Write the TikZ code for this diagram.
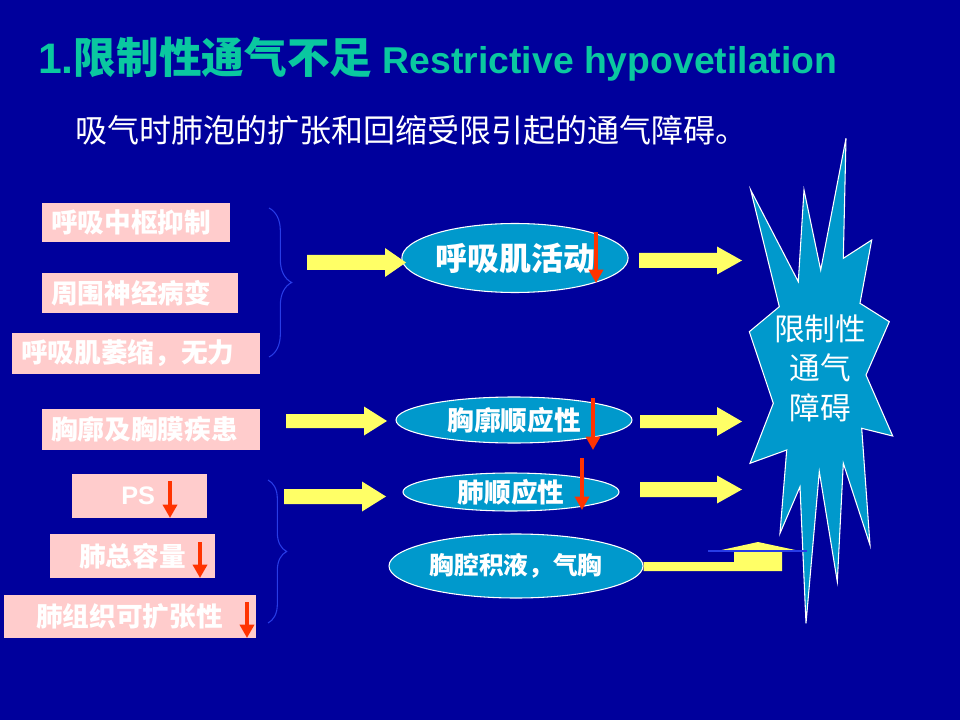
\documentclass[tikz,border=0pt]{standalone}
\usepackage{fontspec}
\setmainfont{Liberation Sans}
\newfontfamily\cjk{Noto Sans CJK SC}
\usetikzlibrary{shapes.geometric,arrows.meta,decorations.pathreplacing}
\definecolor{bgc}{RGB}{0,0,156}
\definecolor{titlec}{RGB}{10,200,160}
\definecolor{pinkc}{RGB}{255,204,204}
\definecolor{ellc}{RGB}{0,153,204}
\definecolor{yelc}{RGB}{255,255,102}
\definecolor{redc}{RGB}{255,51,0}
\definecolor{bracec}{RGB}{40,60,230}
\newcommand{\px}[1]{#1*0.75pt}
% block arrow: x-start, x-tip, y-centre, shaft half, head half, head length
\newcommand{\yarrow}[6]{\fill[yelc] (#1,#3-#4) -- (#2-#6,#3-#4) -- (#2-#6,#3-#5) -- (#2,#3) -- (#2-#6,#3+#5) -- (#2-#6,#3+#4) -- (#1,#3+#4) -- cycle;}
\begin{document}
\begin{tikzpicture}[x=0.75pt,y=-0.75pt,
  pbox/.style={fill=pinkc, inner sep=0pt},
  btext/.style={text=white, inner sep=0pt, anchor=west, font=\cjk\bfseries\fontsize{20}{22}\selectfont},
  ell/.style={ellipse, fill=ellc, draw=white, line width=0.8pt, inner sep=0pt, text=white, font=\cjk\bfseries\fontsize{20}{22}\selectfont},
  redarr/.style={draw=redc, line width=2.8pt, -{Triangle[width=10.5pt,length=10pt]}},
  bracestyle/.style={draw=bracec, line width=0.8pt, decorate},
  burst/.style={fill=ellc, draw=white, line width=0.8pt, line join=miter}]
\fill[bgc] (0,0) rectangle (960,720);
\useasboundingbox (0,0) rectangle (960,720);

% title and subtitle
\node[anchor=base west, inner sep=0pt, text=titlec, font=\bfseries\fontsize{28}{32}\selectfont] (title) at (38,74)
  {{\fontsize{32}{34}\selectfont 1.}{\cjk\fontsize{32}{34}\selectfont 限制性通气不足} Restrictive hypovetilation};
\node[anchor=west, inner sep=0pt, text=white, font=\cjk\fontsize{24}{26}\selectfont] (sub) at (75,130)
  {吸气时肺泡的扩张和回缩受限引起的通气障碍。};

% left boxes
\node[pbox, minimum width=\px{188}, minimum height=\px{39}] (b1) at (136,222.5) {};
\node[btext] (t1) at (51,222) {呼吸中枢抑制};
\node[pbox, minimum width=\px{196}, minimum height=\px{40}] (b2) at (140,293) {};
\node[btext] (t2) at (51,293) {周围神经病变};
\node[pbox, minimum width=\px{248}, minimum height=\px{41}] (b3) at (136,353.5) {};
\node[btext] (t3) at (21,353.5) {呼吸肌萎缩，无力};
\node[pbox, minimum width=\px{218}, minimum height=\px{41}] (b4) at (151,429.5) {};
\node[btext] (t4) at (51,429.5) {胸廓及胸膜疾患};
\node[pbox, minimum width=\px{135}, minimum height=\px{44}] (b5) at (139.5,496) {};
\node[btext, font=\bfseries\fontsize{19}{22}\selectfont] (t5) at (121,496) {PS};
\node[pbox, minimum width=\px{165}, minimum height=\px{44}] (b6) at (132.5,556) {};
\node[btext] (t6) at (79,556) {肺总容量};
\node[pbox, minimum width=\px{252}, minimum height=\px{43}] (b7) at (130,616.5) {};
\node[btext] (t7) at (36,616.5) {肺组织可扩张性};

% braces
\draw[bracestyle, decoration={brace, amplitude=17pt}] (269,208) -- (269,357);
\draw[bracestyle, decoration={brace, amplitude=14pt}] (268,480) -- (268,623);

% starburst
\filldraw[burst] (750.7,190) -- (779.3,306.7) -- (749.3,331.7) -- (773.3,403.3) -- (750,463.3)
  -- (786.7,450) -- (780,533.3) -- (800,486.7) -- (806,623.3) -- (819.3,471.7) -- (837.3,581.7)
  -- (843.3,463.3) -- (870,545) -- (861.7,428.3) -- (892.7,436) -- (866,375) -- (889.3,321.7)
  -- (860,303.3) -- (871.7,240) -- (843.3,258.3) -- (846,138.3) -- (820.7,270) -- (804,190)
  -- (798.3,281.7) -- cycle;
\node[text=white, inner sep=0pt, align=center, font=\cjk\fontsize{23}{29.6}\selectfont] (sb) at (820,368) {限制性\\通气\\障碍};

% ellipses
\node[ell, minimum width=\px{219}, minimum height=\px{69}, font=\cjk\bfseries\fontsize{24}{26}\selectfont] (e1) at (515,258) {呼吸肌活动};
\node[ell, minimum width=\px{236}, minimum height=\px{46}] (e2) at (514,420) {胸廓顺应性};
\node[ell, minimum width=\px{216}, minimum height=\px{38}] (e3) at (511,492) {肺顺应性};
\node[ell, minimum width=\px{254}, minimum height=\px{64}, font=\cjk\bfseries\fontsize{18.5}{20}\selectfont] (e4) at (516,566) {胸腔积液，气胸};

% yellow block arrows
\yarrow{307}{406}{262.5}{7.5}{14.5}{21}
\yarrow{639}{742}{260.5}{7.5}{14}{25}
\yarrow{286}{387}{421}{7}{14.5}{23}
\yarrow{640}{742}{421.5}{6.5}{14.5}{25}
\yarrow{640}{742}{489.5}{7.5}{14}{25}
\yarrow{284}{386}{496.5}{7.5}{15}{24}

% bent arrow from pleural effusion to the burst
\fill[yelc] (e4.east |- 0,562) -- (734,562) -- (734,551) -- (717,551) -- (758,542) -- (800,551)
  -- (782,551) -- (782,571) -- (e4.east |- 0,571) -- cycle;
\draw[bracec, line width=0.8pt] (708,551) -- (807,551);

% red down arrows
\draw[redarr] (596,232) -- (596,283);
\draw[redarr] (593,398) -- (593,450);
\draw[redarr] (582,458) -- (582,510);
\draw[redarr] (170,481) -- (170,518);
\draw[redarr] (200,542) -- (200,578);
\draw[redarr] (247,602) -- (247,638);
\end{tikzpicture}
\end{document}
